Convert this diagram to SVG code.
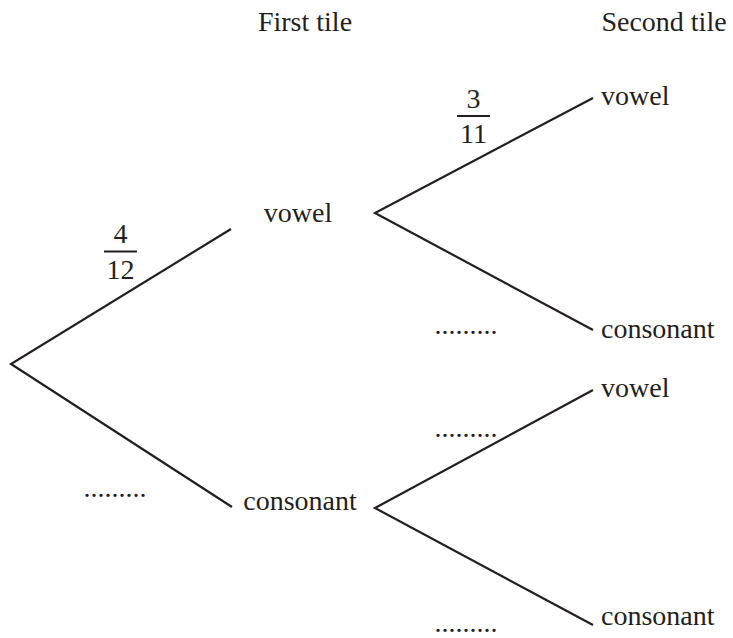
<svg xmlns="http://www.w3.org/2000/svg" width="733" height="638" viewBox="0 0 733 638">
<style>
text{font-family:"Liberation Serif","Times New Roman",serif;font-size:28px;fill:#231f20}
.c{stroke:#231f20;stroke-width:2.2;fill:none}
.m{text-anchor:middle}
</style>
<rect width="733" height="638" fill="#fff"/>
<g id="headers">
<text x="305" y="31" class="m">First tile</text>
<text x="664" y="31" class="m">Second tile</text>
</g>
<g id="connectors">
<path class="c" d="M231,229 L11,364 L232,507"/>
<path class="c" d="M593,98 L375,213 L593,330"/>
<path class="c" d="M593,390 L375,508 L593,625"/>
<line class="c" x1="104" y1="251.5" x2="137" y2="251.5" stroke-width="2"/>
<line class="c" x1="457" y1="116" x2="490" y2="116" stroke-width="2"/>
</g>
<g id="p1"><text x="120.5" y="243" class="m">4</text><text x="120.5" y="279" class="m">12</text></g>
<g id="p2"><text x="473.5" y="108" class="m">3</text><text x="473.5" y="143" class="m">11</text></g>
<g id="n-vowel1"><text x="298" y="222" class="m">vowel</text></g>
<g id="n-consonant1"><text x="300" y="510" class="m">consonant</text></g>
<g id="n-vowel2"><text x="601" y="105">vowel</text></g>
<g id="n-consonant2"><text x="601" y="338">consonant</text></g>
<g id="n-vowel3"><text x="601" y="397">vowel</text></g>
<g id="n-consonant3"><text x="601" y="625">consonant</text></g>
<g id="blanks">
<text x="466" y="334" class="m">.........</text>
<text x="466" y="437" class="m">.........</text>
<text x="466" y="632" class="m">.........</text>
<text x="115" y="497" class="m">.........</text>
</g>
</svg>
